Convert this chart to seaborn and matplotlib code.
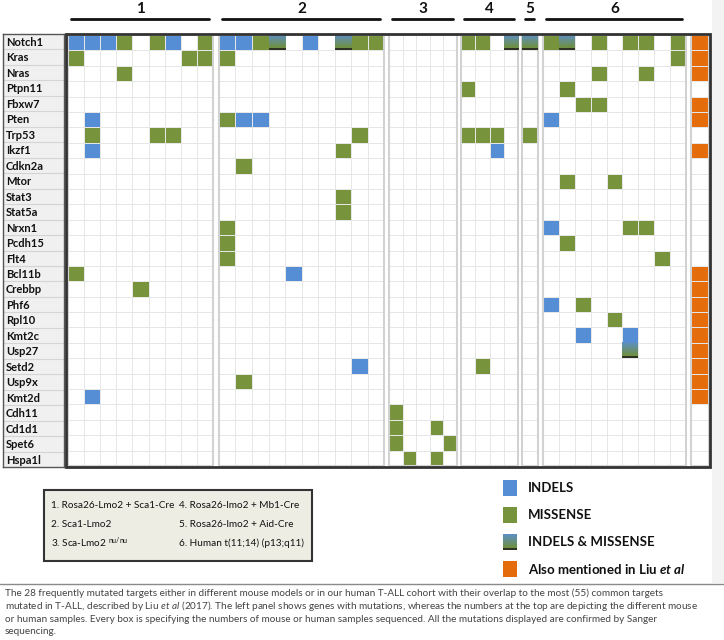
import numpy as np
import pandas as pd
import matplotlib
matplotlib.use('Agg')
import matplotlib.pyplot as plt
import seaborn as sns
from matplotlib.colors import ListedColormap, to_rgb
from matplotlib.patches import Rectangle
from matplotlib.lines import Line2D
from matplotlib import font_manager

# genes (rows) top to bottom
genes = ['Notch1', 'Kras', 'Nras', 'Ptpn11', 'Fbxw7', 'Pten', 'Trp53', 'Ikzf1',
         'Cdkn2a', 'Mtor', 'Stat3', 'Stat5a', 'Nrxn1', 'Pcdh15', 'Flt4', 'Bcl11b',
         'Crebbp', 'Phf6', 'Rpl10', 'Kmt2c', 'Usp27', 'Setd2', 'Usp9x', 'Kmt2d',
         'Cdh11', 'Cd1d1', 'Spet6', 'Hspa1l']

# mutations per sample: . none, I indel, M missense, B indel & missense
group1 = {'Notch1': 'IIIM.MI.M', 'Kras': 'M......MM', 'Nras': '...M.....',
          'Pten': '.I.......', 'Trp53': '.M...MM..', 'Ikzf1': '.I.......',
          'Bcl11b': 'M........', 'Crebbp': '....M....', 'Kmt2d': '.I.......'}
group2 = {'Notch1': 'IIMB.I.BMM', 'Kras': 'M.........', 'Pten': 'MII.......',
          'Trp53': '........M.', 'Ikzf1': '.......M..', 'Cdkn2a': '.M........',
          'Stat3': '.......M..', 'Stat5a': '.......M..', 'Nrxn1': 'M.........',
          'Pcdh15': 'M.........', 'Flt4': 'M.........', 'Bcl11b': '....I.....',
          'Setd2': '........I.', 'Usp9x': '.M........'}
group3 = {'Cdh11': 'M....', 'Cd1d1': 'M..M.', 'Spet6': 'M...M', 'Hspa1l': '.M.M.'}
group4 = {'Notch1': 'MM.B', 'Ptpn11': 'M...', 'Trp53': 'MMM.', 'Ikzf1': '..I.',
          'Setd2': '.M..'}
group5 = {'Notch1': 'B', 'Trp53': 'M'}
group6 = {'Notch1': 'MB.M.MM.M', 'Kras': '........M', 'Nras': '...M..M..',
          'Ptpn11': '.M.......', 'Fbxw7': '..MM.....', 'Pten': 'I........',
          'Mtor': '.M..M....', 'Nrxn1': 'I....MM..', 'Pcdh15': '.M.......',
          'Flt4': '.......M.', 'Phf6': 'I.M......', 'Rpl10': '....M....',
          'Kmt2c': '..I..I...', 'Usp27': '.....B...'}

group_labels = ['1', '2', '3', '4', '5', '6']
group_ncols = [9, 10, 5, 4, 1, 9]
groups = [group1, group2, group3, group4, group5, group6]

liu_genes = ['Notch1', 'Kras', 'Nras', 'Fbxw7', 'Pten', 'Ikzf1', 'Bcl11b', 'Crebbp',
             'Phf6', 'Rpl10', 'Kmt2c', 'Usp27', 'Setd2', 'Usp9x', 'Kmt2d']

model_names = ['1. Rosa26-Lmo2 + Sca1-Cre', '2. Sca1-Lmo2', r'3. Sca-Lmo2 $^{\mathrm{nu/nu}}$',
               '4. Rosa26-lmo2 + Mb1-Cre', '5. Rosa26-lmo2 + Aid-Cre', '6. Human t(11;14) (p13;q11)']
legend_labels = ['INDELS', 'MISSENSE', 'INDELS & MISSENSE', r'Also mentioned in Liu $\mathbfit{et\ al}$']

caption = ['The 28 frequently mutated targets either in different mouse models or in our human T-ALL cohort with their overlap to the most (55) common targets',
           r'mutated in T-ALL, described by Liu $\mathit{et\ al}$ (2017). The left panel shows genes with mutations, whereas the numbers at the top are depicting the different mouse',
           'or human samples. Every box is specifying the numbers of mouse or human samples sequenced. All the mutations displayed are confirmed by Sanger',
           'sequencing.']

BLUE, GREEN, ORANGE, DARK = '#558ed5', '#77933c', '#e46c0a', '#2e3322'
code = {'.': 0, 'I': 1, 'M': 2, 'B': 3}

sns.set_style('white')
names = {f.name for f in font_manager.fontManager.ttflist}
narrow = 'Liberation Sans Narrow' if 'Liberation Sans Narrow' in names else 'Lato'
plt.rcParams['font.family'] = ['Lato', 'DejaVu Sans']
plt.rcParams['mathtext.fontset'] = 'custom'
plt.rcParams['mathtext.rm'] = narrow
plt.rcParams['mathtext.it'] = narrow + ':italic'
plt.rcParams['mathtext.bfit'] = 'Lato:italic:bold'

W, H = 724, 640
fig = plt.figure(figsize=(W / 100, H / 100), dpi=100)
fig.patch.set_facecolor('white')


def px_axes(x0, x1, y0, y1):
    return fig.add_axes([x0 / W, 1 - y1 / H, (x1 - x0) / W, (y1 - y0) / H])


def fx(x):
    return x / W


def fy(y):
    return 1 - y / H


TOP, BOT = 35, 466
group_px = [(68, 213), (219, 384), (389, 457), (461, 518), (522, 538), (543, 686)]

# light grey right margin
fig.add_artist(Rectangle((fx(712), fy(583)), fx(12), 583 / H, transform=fig.transFigure,
                         fc='#f3f3f3', ec='none', zorder=0))

# gradient used for indel & missense cells
top_c, bot_c = np.array(to_rgb('#5d8fc4')), np.array(to_rgb('#6f9040'))
grad = np.array([top_c + (bot_c - top_c) * t for t in np.linspace(0, 1, 14)] + [to_rgb(DARK)] * 2)
grad = grad.reshape(-1, 1, 3)

mut_cmap = ListedColormap(['white', BLUE, GREEN, '#66906f'])
for label, ncol, rows, (x0, x1) in zip(group_labels, group_ncols, groups, group_px):
    mat = pd.DataFrame(0, index=genes, columns=range(ncol))
    for g, s in rows.items():
        mat.loc[g] = [code[ch] for ch in s]
    ax = px_axes(x0, x1, TOP, BOT)
    sns.heatmap(mat, ax=ax, cmap=mut_cmap, vmin=-0.5, vmax=3.5, cbar=False,
                linewidths=0.6, linecolor='#e6e6e6', xticklabels=False, yticklabels=False)
    for r, c in zip(*np.where(mat.values == 3)):
        ax.imshow(grad, extent=[c, c + 1, r + 1, r], aspect='auto', zorder=3)
    ax.set_xlim(0, ncol)
    ax.set_ylim(len(genes), 0)
    for s in ax.spines.values():
        s.set_visible(True)
        s.set_color('#d2d2d2')
        s.set_linewidth(1.5)
    # header number and line
    fig.text(fx((x0 + x1) / 2), fy(9), label, ha='center', va='center',
             fontsize=11, fontweight='bold', color='#111111')
    fig.add_artist(Line2D([fx(x0 + 3), fx(x1 - 4)], [fy(19), fy(19)],
                          color='#111111', lw=2, transform=fig.transFigure))

# Liu et al column
liu = pd.DataFrame({'liu': [1 if g in liu_genes else 0 for g in genes]}, index=genes)
ax = px_axes(691, 709, TOP, BOT)
sns.heatmap(liu, ax=ax, cmap=ListedColormap(['white', ORANGE]), vmin=-0.5, vmax=1.5,
            cbar=False, linewidths=0.6, linecolor='#e6e6e6', xticklabels=False, yticklabels=False)
for s in ax.spines.values():
    s.set_visible(True)
    s.set_color('#d2d2d2')
    s.set_linewidth(1.5)

# gene label panel
ax = px_axes(3, 64, TOP - 1, BOT + 1)
ax.set_facecolor('#f0f0f0')
ax.set_xlim(0, 1)
ax.set_ylim(len(genes), 0)
ax.hlines(np.arange(1, len(genes)), 0, 1, color='#d4d4d4', lw=0.8)
for i, g in enumerate(genes):
    ax.text(0.05, i + 0.55, g, ha='left', va='center', fontsize=8,
            fontweight='bold', color='#111111')
ax.set_xticks([])
ax.set_yticks([])
for s in ax.spines.values():
    s.set_color('#555555')
    s.set_linewidth(1)

# outer dark frame
fig.add_artist(Rectangle((fx(66), fy(467)), fx(710 - 66), (467 - 34) / H,
                         transform=fig.transFigure, fill=False, ec='#333333', lw=2, zorder=5))

# model legend box
fig.add_artist(Rectangle((fx(44), fy(561)), fx(312 - 44), (561 - 490) / H,
                         transform=fig.transFigure, fc='#eeede4', ec='#333333', lw=1.5))
for i, t in enumerate(model_names):
    col, row = divmod(i, 3)
    fig.text(fx(51 + col * 128), fy(506 + row * 18.5), t, ha='left', va='center',
             fontsize=7.2, family=narrow, color='#111111')

# colour legend
leg_colors = [BLUE, GREEN, None, ORANGE]
for i, (t, c) in enumerate(zip(legend_labels, leg_colors)):
    yc = 488 + i * 27
    if c is None:
        lax = px_axes(503, 517, yc - 8, yc + 8)
        lax.imshow(grad, aspect='auto')
        lax.axis('off')
    else:
        fig.add_artist(Rectangle((fx(503), fy(yc + 8)), fx(14), 16 / H,
                                 transform=fig.transFigure, fc=c, ec='none'))
    fig.text(fx(528), fy(yc), t, ha='left', va='center', fontsize=9.5,
             fontweight='bold', color='#111111')

# caption
fig.add_artist(Line2D([0, 1], [fy(584), fy(584)], color='#8a8a8a', lw=1,
                      transform=fig.transFigure))
for i, line in enumerate(caption):
    fig.text(fx(5), fy(593 + i * 13), line, ha='left', va='center',
             fontsize=7.2, family=narrow, color='#444444')

plt.savefig('out.png', dpi=100)
plt.close()
print("Saved out.png")
